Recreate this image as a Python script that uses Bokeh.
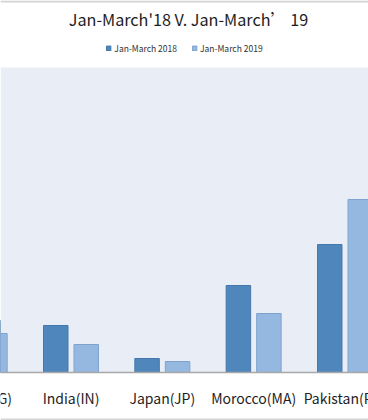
from bokeh.plotting import figure
from bokeh.models import (ColumnDataSource, Range1d, Legend, LegendItem,
                          BoxAnnotation, Label, Span)
from bokeh.core.properties import value
from bokeh.transform import dodge
from bokeh.embed import file_html
from bokeh.resources import INLINE

title_text = "Jan-March'18 V. Jan-March\u2019 19"
countries = ["Egypt(EG)", "India(IN)", "Japan(JP)", "Morocco(MA)", "Pakistan(PK)"]
jan_mar_2018 = [520, 470, 140, 870, 1280]
jan_mar_2019 = [390, 280, 110, 590, 1730]
series_names = ["Jan-March 2018", "Jan-March 2019"]
value_axis_max = 3050

FONT = "Noto Sans CJK SC"

idx = list(range(len(countries)))
src = ColumnDataSource(dict(x=idx, y18=jan_mar_2018, y19=jan_mar_2019, name=countries))

p = figure(width=368, height=420, output_backend="svg", toolbar_location=None,
           title_location=None,
           x_range=Range1d(0.2281, 4.2574), y_range=Range1d(-480, 3720),
           min_border_left=0, min_border_right=0, min_border_top=0, min_border_bottom=0)

p.background_fill_color = "white"
p.border_fill_color = "white"
p.outline_line_color = None
p.xgrid.visible = False
p.ygrid.visible = False
p.xaxis.visible = False
p.yaxis.visible = False

# plot-area background (value range of the chart)
p.add_layout(BoxAnnotation(bottom=0, top=value_axis_max, fill_color="#e9edf6",
                           fill_alpha=1, line_color=None, level="underlay"))
# thin grey frame lines at top and bottom edges of the picture
p.add_layout(BoxAnnotation(bottom=3700, fill_color="#d4d4d4", fill_alpha=1,
                           line_color=None, level="underlay"))
p.add_layout(BoxAnnotation(top=-460, fill_color="#d4d4d4", fill_alpha=1,
                           line_color=None, level="underlay"))

r18 = p.vbar(x=dodge("x", -0.167, range=p.x_range), top="y18", width=0.268, source=src,
             fill_color="#4f86bc", line_color="#4578ab", line_width=1)
r19 = p.vbar(x=dodge("x", 0.167, range=p.x_range), top="y19", width=0.268, source=src,
             fill_color="#95b8e0", line_color="#7ea3cf", line_width=1)

# category axis: baseline + labels
p.add_layout(Span(location=0, dimension="width", line_color="#a8a8a8", line_width=1.5))
p.text(x="x", y=-250, text="name", source=src, text_align="center",
       text_baseline="middle", text_font=value(FONT), text_font_size="14px",
       text_color="#1e1e1e")

p.add_layout(Label(x=188, x_units="screen", y=3540, text=title_text,
                   text_align="center", text_baseline="middle",
                   text_font=FONT, text_font_size="16.2px",
                   text_color="#1e1e1e"))

legend = Legend(items=[LegendItem(label=series_names[0], renderers=[r18]),
                       LegendItem(label=series_names[1], renderers=[r19])],
                orientation="horizontal", location="top_center",
                label_text_font=FONT, label_text_font_size="8.5px",
                label_text_color="#333333", label_height=8,
                glyph_width=6, glyph_height=6, spacing=14, padding=0, margin=42,
                label_standoff=3, border_line_color=None, background_fill_alpha=0)
p.add_layout(legend, "center")

open("out.html", "w").write(file_html(p, INLINE))
